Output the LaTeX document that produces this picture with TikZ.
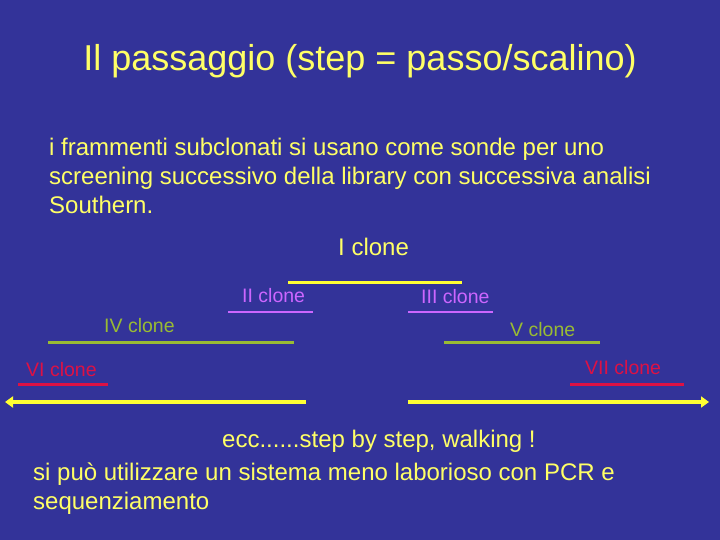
\documentclass[tikz,border=0pt]{standalone}
\usepackage{fontspec}
\setmainfont{Liberation Sans}
\usetikzlibrary{arrows.meta}
\definecolor{bgblue}{HTML}{333399}
\definecolor{txtyel}{HTML}{FFFF66}
\definecolor{lnyel}{HTML}{FFFF33}
\definecolor{violet}{HTML}{CC66FF}
\definecolor{lgreen}{HTML}{99BB33}
\definecolor{cred}{HTML}{DD1144}
\tikzset{
  body/.style={anchor=base west, inner sep=0pt, text=txtyel, font=\fontsize{24}{29}\selectfont},
  lbl/.style={anchor=base west, inner sep=0pt, font=\fontsize{19.5}{23}\selectfont},
  thickline/.style={line width=3pt},
  thinline/.style={line width=1.5pt},
  walk/.style={line width=4pt, color=lnyel, -{Triangle[length=8pt,width=11pt]}}
}
\begin{document}
\begin{tikzpicture}[x=1pt,y=-1pt]
\fill[bgblue] (0,0) rectangle (720,540);
\useasboundingbox (0,0) rectangle (720,540);
% title
\node[anchor=base, inner sep=0pt, text=txtyel, font=\fontsize{36}{40}\selectfont] (title) at (360,71) {Il passaggio (step = passo/scalino)};
% body
\node[body] (b1) at (49,156) {i frammenti subclonati si usano come sonde per uno};
\node[body] (b2) at (49,185) {screening successivo della library con successiva analisi};
\node[body] (b3) at (49,214) {Southern.};
% clone labels
\node[body] (c1) at (338,255) {I clone};
\node[lbl, text=violet] (c2) at (242,302) {II clone};
\node[lbl, text=violet] (c3) at (421,303) {III clone};
\node[lbl, text=lgreen] (c4) at (104,332) {IV clone};
\node[lbl, text=lgreen] (c5) at (510,336) {V clone};
\node[lbl, text=cred] (c6) at (26,376) {VI clone};
\node[lbl, text=cred] (c7) at (585,374) {VII clone};
% clone lines
\coordinate (l1a) at (288,282); \coordinate (l1b) at (462,282);
\coordinate (l2a) at (228,312); \coordinate (l2b) at (313,312);
\coordinate (l3a) at (408,312); \coordinate (l3b) at (493,312);
\coordinate (l4a) at (48,342);  \coordinate (l4b) at (294,342);
\coordinate (l5a) at (444,342); \coordinate (l5b) at (600,342);
\coordinate (l6a) at (18,384);  \coordinate (l6b) at (108,384);
\coordinate (l7a) at (570,384); \coordinate (l7b) at (684,384);
\draw[thickline, lnyel] (l1a) -- (l1b);
\draw[thinline, violet] (l2a) -- (l2b);
\draw[thinline, violet] (l3a) -- (l3b);
\draw[thickline, lgreen] (l4a) -- (l4b);
\draw[thickline, lgreen] (l5a) -- (l5b);
\draw[thickline, cred] (l6a) -- (l6b);
\draw[thickline, cred] (l7a) -- (l7b);
% walking arrows
\coordinate (wLs) at (306,402); \coordinate (wLe) at (5,402);
\coordinate (wRs) at (408,402); \coordinate (wRe) at (709,402);
\draw[walk] (wLs) -- (wLe);
\draw[walk] (wRs) -- (wRe);
% bottom text
\node[body] (e1) at (222,447) {ecc......step by step, walking !};
\node[body] (s1) at (33,480) {si può utilizzare un sistema meno laborioso con PCR e};
\node[body] (s2) at (33,509) {sequenziamento};
\end{tikzpicture}
\end{document}
